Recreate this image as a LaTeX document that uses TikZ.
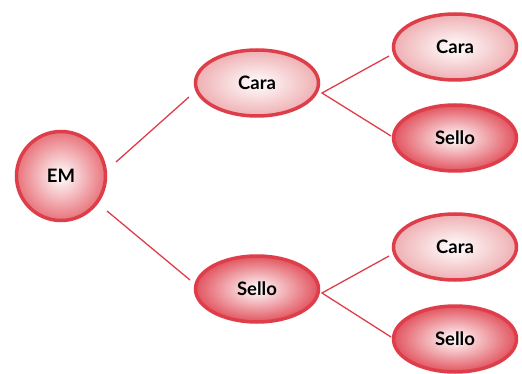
\documentclass[tikz,border=0pt]{standalone}
\usepackage{fontspec}
\setmainfont{Lato}
\usepackage{tikz}
\usetikzlibrary{shapes.geometric,calc}
\definecolor{rim}{HTML}{DE3E4A}
\definecolor{caraedge}{HTML}{EFB0B3}
\definecolor{selloedge}{HTML}{E2545F}
\definecolor{emedge}{HTML}{E8737B}

\begin{document}
\begin{tikzpicture}[x=1pt,y=-1pt,
    coin/.style={ellipse,draw=rim,line width=3.5pt,minimum width=123pt,
      minimum height=66pt,inner sep=0pt,font=\fontsize{18.5}{22}\selectfont\bfseries},
    cara/.style={coin,inner color=white,outer color=caraedge},
    sello/.style={coin,inner color=white,outer color=selloedge},
    branch/.style={draw=rim,line width=1.3pt}]
  \useasboundingbox (0,0) rectangle (522,374);
  % start
  \node[circle,draw=rim,line width=3.5pt,minimum size=89pt,inner sep=0pt,
    inner color=white,outer color=emedge,font=\fontsize{18.5}{22}\selectfont\bfseries]
    (em) at (61,176) {EM};
  % first toss
  \node[cara]  (c) at (257,83)  {Cara};
  \node[sello] (s) at (257,289) {Sello};
  % second toss
  \node[cara]  (cc) at (455,47)  {Cara};
  \node[sello] (cs) at (455,138) {Sello};
  \node[cara]  (sc) at (455,247) {Cara};
  \node[sello] (ss) at (455,339) {Sello};
  \draw[branch] ($(em)+(55,-14)$) -- ($(c)+(-68,14)$);
  \draw[branch] ($(em)+(46,35)$) -- ($(s)+(-67,-9)$);
  \foreach \a/\u/\l/\f in {c/cc/cs/10,s/sc/ss/4}
    \draw[branch] ($(\u)+(-66,9)$) -- ($(\a)+(65,\f)$) -- ($(\l)+(-64,-2)$);
\end{tikzpicture}
\end{document}
